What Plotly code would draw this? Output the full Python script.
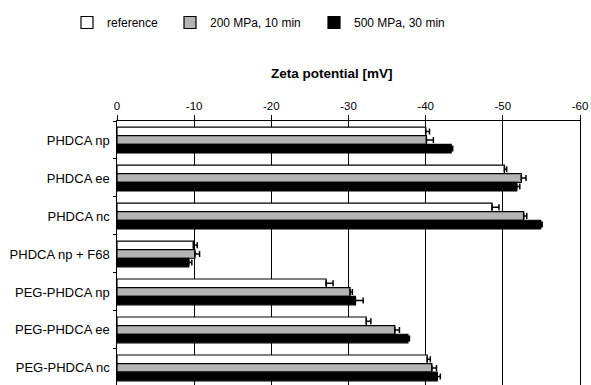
import plotly.graph_objects as go

categories = ["PHDCA np", "PHDCA ee", "PHDCA nc", "PHDCA np + F68",
              "PEG-PHDCA np", "PEG-PHDCA ee", "PEG-PHDCA nc"]
series_names = ["reference", "200 MPa, 10 min", "500 MPa, 30 min"]
reference = [-40.0, -50.2, -48.6, -9.9, -27.1, -32.3, -40.2]
reference_err = [0.5, 0.3, 0.9, 0.5, 0.9, 0.6, 0.4]
mpa200 = [-40.1, -52.4, -52.7, -10.1, -30.2, -36.0, -40.8]
mpa200_err = [0.9, 0.6, 0.4, 0.6, 0.3, 0.6, 0.6]
mpa500 = [-43.3, -51.8, -54.9, -9.3, -30.9, -37.7, -41.5]
mpa500_err = [0.2, 0.4, 0.2, 0.4, 1.0, 0.2, 0.4]
x_ticks = [0, -10, -20, -30, -40, -50, -60]

fills = ["#ffffff", "#b4b4b4", "#000000"]
values = [reference, mpa200, mpa500]
errors = [reference_err, mpa200_err, mpa500_err]
legend_ids = ["legend", "legend2", "legend3"]
legend_x = [67, 170, 314]

fig = go.Figure()
for name, vals, errs, col, lid in zip(series_names, values, errors, fills, legend_ids):
    fig.add_trace(go.Bar(
        y=categories, x=vals, orientation="h", name=name,
        marker=dict(color=col, line=dict(color="black", width=1.2)),
        error_x=dict(type="data", symmetric=False, array=[0] * len(errs),
                     arrayminus=errs, color="black", thickness=1.5, width=3),
        legend=lid,
    ))

FONT = "Liberation Sans, Arial, sans-serif"
leg_common = dict(orientation="h", xref="container", yref="container",
                  yanchor="middle", y=1 - 22.5 / 385, xanchor="left",
                  font=dict(family=FONT, size=12, color="black"),
                  bgcolor="rgba(0,0,0,0)", borderwidth=0)
layout_legends = {}
for lid, lx in zip(legend_ids, legend_x):
    layout_legends[lid] = dict(leg_common, x=lx / 591)

plot_top, plot_h = 120.5, 385 - 120.5

fig.update_layout(
    width=591, height=385,
    margin=dict(l=116.5, r=11, t=120.5, b=0),
    paper_bgcolor="white", plot_bgcolor="white",
    barmode="group", bargap=0.32, bargroupgap=0,
    showlegend=True,
    font=dict(family=FONT, color="black"),
    xaxis=dict(side="top", range=[0, -60], tickvals=x_ticks,
               ticktext=[str(t) for t in x_ticks],
               showgrid=True, gridcolor="black", gridwidth=1,
               zeroline=False, showline=True, linecolor="black", linewidth=1.2,
               ticks="outside", ticklen=5, tickcolor="black",
               tickfont=dict(family=FONT, size=11.5, color="black")),
    yaxis=dict(autorange=False, range=[6.45, -0.5], type="category",
               showline=True, linecolor="black", linewidth=1.2, mirror=True,
               ticks="outside", ticklen=3, tickson="boundaries", tickcolor="black",
               showgrid=False,
               tickfont=dict(family=FONT, size=13, color="black"), ticksuffix=" "),
    annotations=[dict(text="<b>Zeta potential [mV]</b>", xref="paper", yref="paper",
                      x=(332 - 116.5) / 463.5, y=1 + (plot_top - 73) / plot_h,
                      xanchor="center", yanchor="middle", showarrow=False,
                      font=dict(family=FONT, size=13.5, color="black"))],
    **layout_legends,
)
fig.write_html("out.html")
